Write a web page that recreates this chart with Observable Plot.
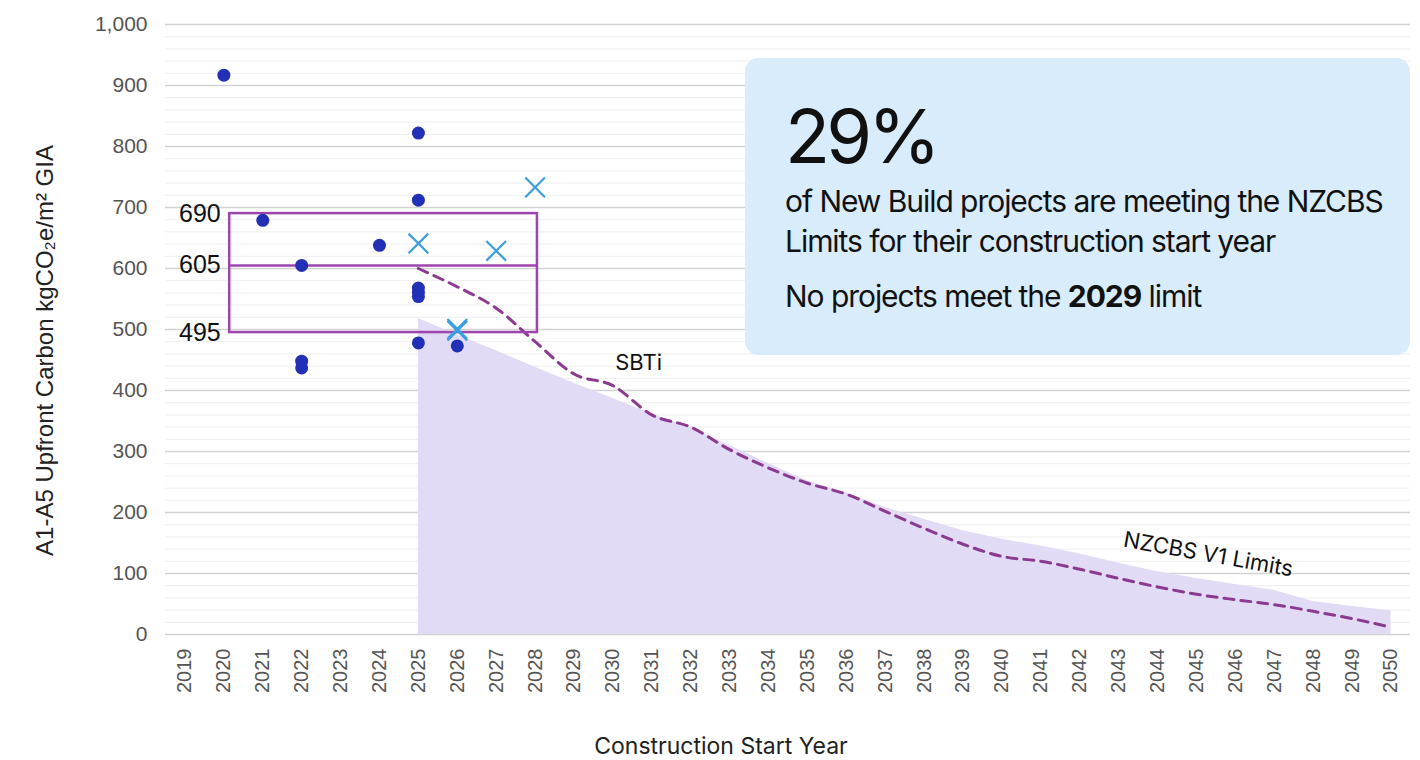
<!DOCTYPE html>
<html>
<head>
<meta charset="utf-8">
<script src="https://cdn.jsdelivr.net/npm/d3@7"></script>
<script src="https://cdn.jsdelivr.net/npm/@observablehq/plot@0.6"></script>
<style>
  html, body { margin: 0; padding: 0; background: #ffffff; }
  #wrap { position: relative; width: 1420px; height: 760px; overflow: hidden; }
  #info { position: absolute; left: 745px; top: 58px; width: 665px; height: 297px;
          background: #d9ecfc; border-radius: 14px; font-family: Inter, "Noto Sans", sans-serif; color: #111; }
  #info div { position: absolute; left: 40px; white-space: nowrap; }
  #big { top: 41px; font-size: 74px; letter-spacing: -4px; font-weight: 400; line-height: 1; }
  .line { font-size: 30px; letter-spacing: -1.05px; line-height: 1; }
  #l1 { top: 128px; }
  #l2 { top: 168px; }
  #l3 { top: 223px; }
</style>
</head>
<body>
<div id="wrap">
  <div id="chart"></div>
  <div id="info">
    <div id="big">29%</div>
    <div id="l1" class="line">of New Build projects are meeting the NZCBS</div>
    <div id="l2" class="line">Limits for their construction start year</div>
    <div id="l3" class="line">No projects meet the <b>2029</b> limit</div>
  </div>
</div>
<script>
// ---- data ----
const yearTicks = [2019, 2020, 2021, 2022, 2023, 2024, 2025, 2026, 2027, 2028, 2029, 2030,
  2031, 2032, 2033, 2034, 2035, 2036, 2037, 2038, 2039, 2040, 2041, 2042, 2043, 2044,
  2045, 2046, 2047, 2048, 2049, 2050];
const valueTicks = [0, 100, 200, 300, 400, 500, 600, 700, 800, 900, 1000];

// projects (circles)
const projectYears  = [2020, 2021, 2022, 2022, 2022, 2024, 2025, 2025, 2025, 2025, 2025, 2025, 2026];
const projectValues = [917, 679, 605, 448, 437, 638, 822, 712, 568, 561, 554, 478, 473];

// projects (crosses)
const crossYears  = [2025, 2026, 2026, 2027, 2028];
const crossValues = [641, 501, 498, 629, 733];

// NZCBS V1 limits (shaded area)
const limitYears = [2025, 2026, 2027, 2028, 2029, 2030, 2031, 2032, 2033, 2034, 2035, 2036, 2037,
  2038, 2039, 2040, 2041, 2042, 2043, 2044, 2045, 2046, 2047, 2048, 2049, 2050];
const limitValues = [518, 491, 465, 438, 412, 387, 362, 338, 310, 280, 252, 232, 208,
  189, 170, 156, 145, 132, 117, 103, 92, 82, 72, 54, 46, 39];

// SBTi trajectory (dashed)
const sbtiValues = [600, 570, 535, 480, 427, 408, 360, 340, 303, 273, 248, 230, 202,
  174, 148, 128, 120, 107, 92, 78, 66, 57, 49, 38, 26, 12];

// highlighted range (box)
const rangeYears = [2020.15, 2028.06];
const rangeLevels = [495, 605, 690];

// ---- tables ----
const projects = projectYears.map((y, i) => ({year: y, value: projectValues[i]}));
const crosses = crossYears.map((y, i) => ({year: y, value: crossValues[i]}));
const limits = limitYears.map((y, i) => ({year: y, value: limitValues[i]}));
const sbti = limitYears.map((y, i) => ({year: y, value: sbtiValues[i]}));
const minorTicks = d3.range(0, 1001, 20).filter(v => v % 100 !== 0);

const axisFont = "'Liberation Sans', Arial, sans-serif";

const chart = Plot.plot({
  width: 1420,
  height: 760,
  marginLeft: 165,
  marginRight: 10,
  marginTop: 24,
  marginBottom: 126,
  style: {fontFamily: axisFont, background: "transparent", overflow: "visible"},
  x: {domain: [2018.5, 2050.5]},
  y: {domain: [0, 1000]},
  marks: [
    Plot.ruleY(minorTicks, {stroke: "#eeeeee", strokeWidth: 1}),
    Plot.ruleY(valueTicks, {stroke: "#d3d3d3", strokeWidth: 1.4}),
    Plot.areaY(limits, {x: "year", y: "value", fill: "#e2dbf5", curve: "linear"}),
    Plot.line(sbti, {x: "year", y: "value", stroke: "#8b3a90", strokeWidth: 3, strokeDasharray: "10,7", curve: "monotone-x"}),
    Plot.rect([{y1: rangeLevels[0], y2: rangeLevels[2]}], {x1: () => rangeYears[0], x2: () => rangeYears[1], y1: "y1", y2: "y2", fill: "none", stroke: "#9c45ac", strokeWidth: 2.5}),
    Plot.ruleY([rangeLevels[1]], {x1: rangeYears[0], x2: rangeYears[1], stroke: "#9c45ac", strokeWidth: 2.5}),
    Plot.text(rangeLevels, {x: () => rangeYears[0], y: d => d, text: d => String(d), textAnchor: "end", dx: -9, fontSize: 25, fill: "#111", letterSpacing: 1}),
    Plot.dot(projects, {x: "year", y: "value", r: 6.5, fill: "#2130b5", stroke: "none"}),
    Plot.dot(crosses, {x: "year", y: "value", symbol: "times", r: 9, stroke: "#3b9ee0", strokeWidth: 2.2}),
    Plot.text(["SBTi"], {x: () => 2030.66, y: () => 445, fontSize: 22, fill: "#111", fontFamily: "Inter, sans-serif"}),
    Plot.text(["NZCBS V1 Limits"], {x: () => 2045.3, y: () => 131, fontSize: 22, fill: "#111", rotate: 10, fontFamily: "Inter, sans-serif"}),
    Plot.axisY({ticks: valueTicks, tickFormat: d3.format(","), tickSize: 0, tickPadding: 18, fontSize: 21, fill: "#555", letterSpacing: 1.1, label: null}),
    Plot.axisX({ticks: yearTicks, tickFormat: d => String(d), tickSize: 0, tickPadding: 14, tickRotate: -90, fontSize: 20, fill: "#555", letterSpacing: 1.4, label: null}),
    Plot.text(["A1-A5 Upfront Carbon kgCO₂e/m² GIA"], {frameAnchor: "left", textAnchor: "middle", dx: -120, dy: 21, rotate: -90, fontSize: 24, fill: "#222", letterSpacing: 1.4}),
    Plot.text(["Construction Start Year"], {frameAnchor: "bottom", dx: -67, dy: 119, fontSize: 23, fill: "#222", letterSpacing: 0.9, fontFamily: "Inter, sans-serif"})
  ]
});
document.getElementById("chart").appendChild(chart);
</script>
</body>
</html>
